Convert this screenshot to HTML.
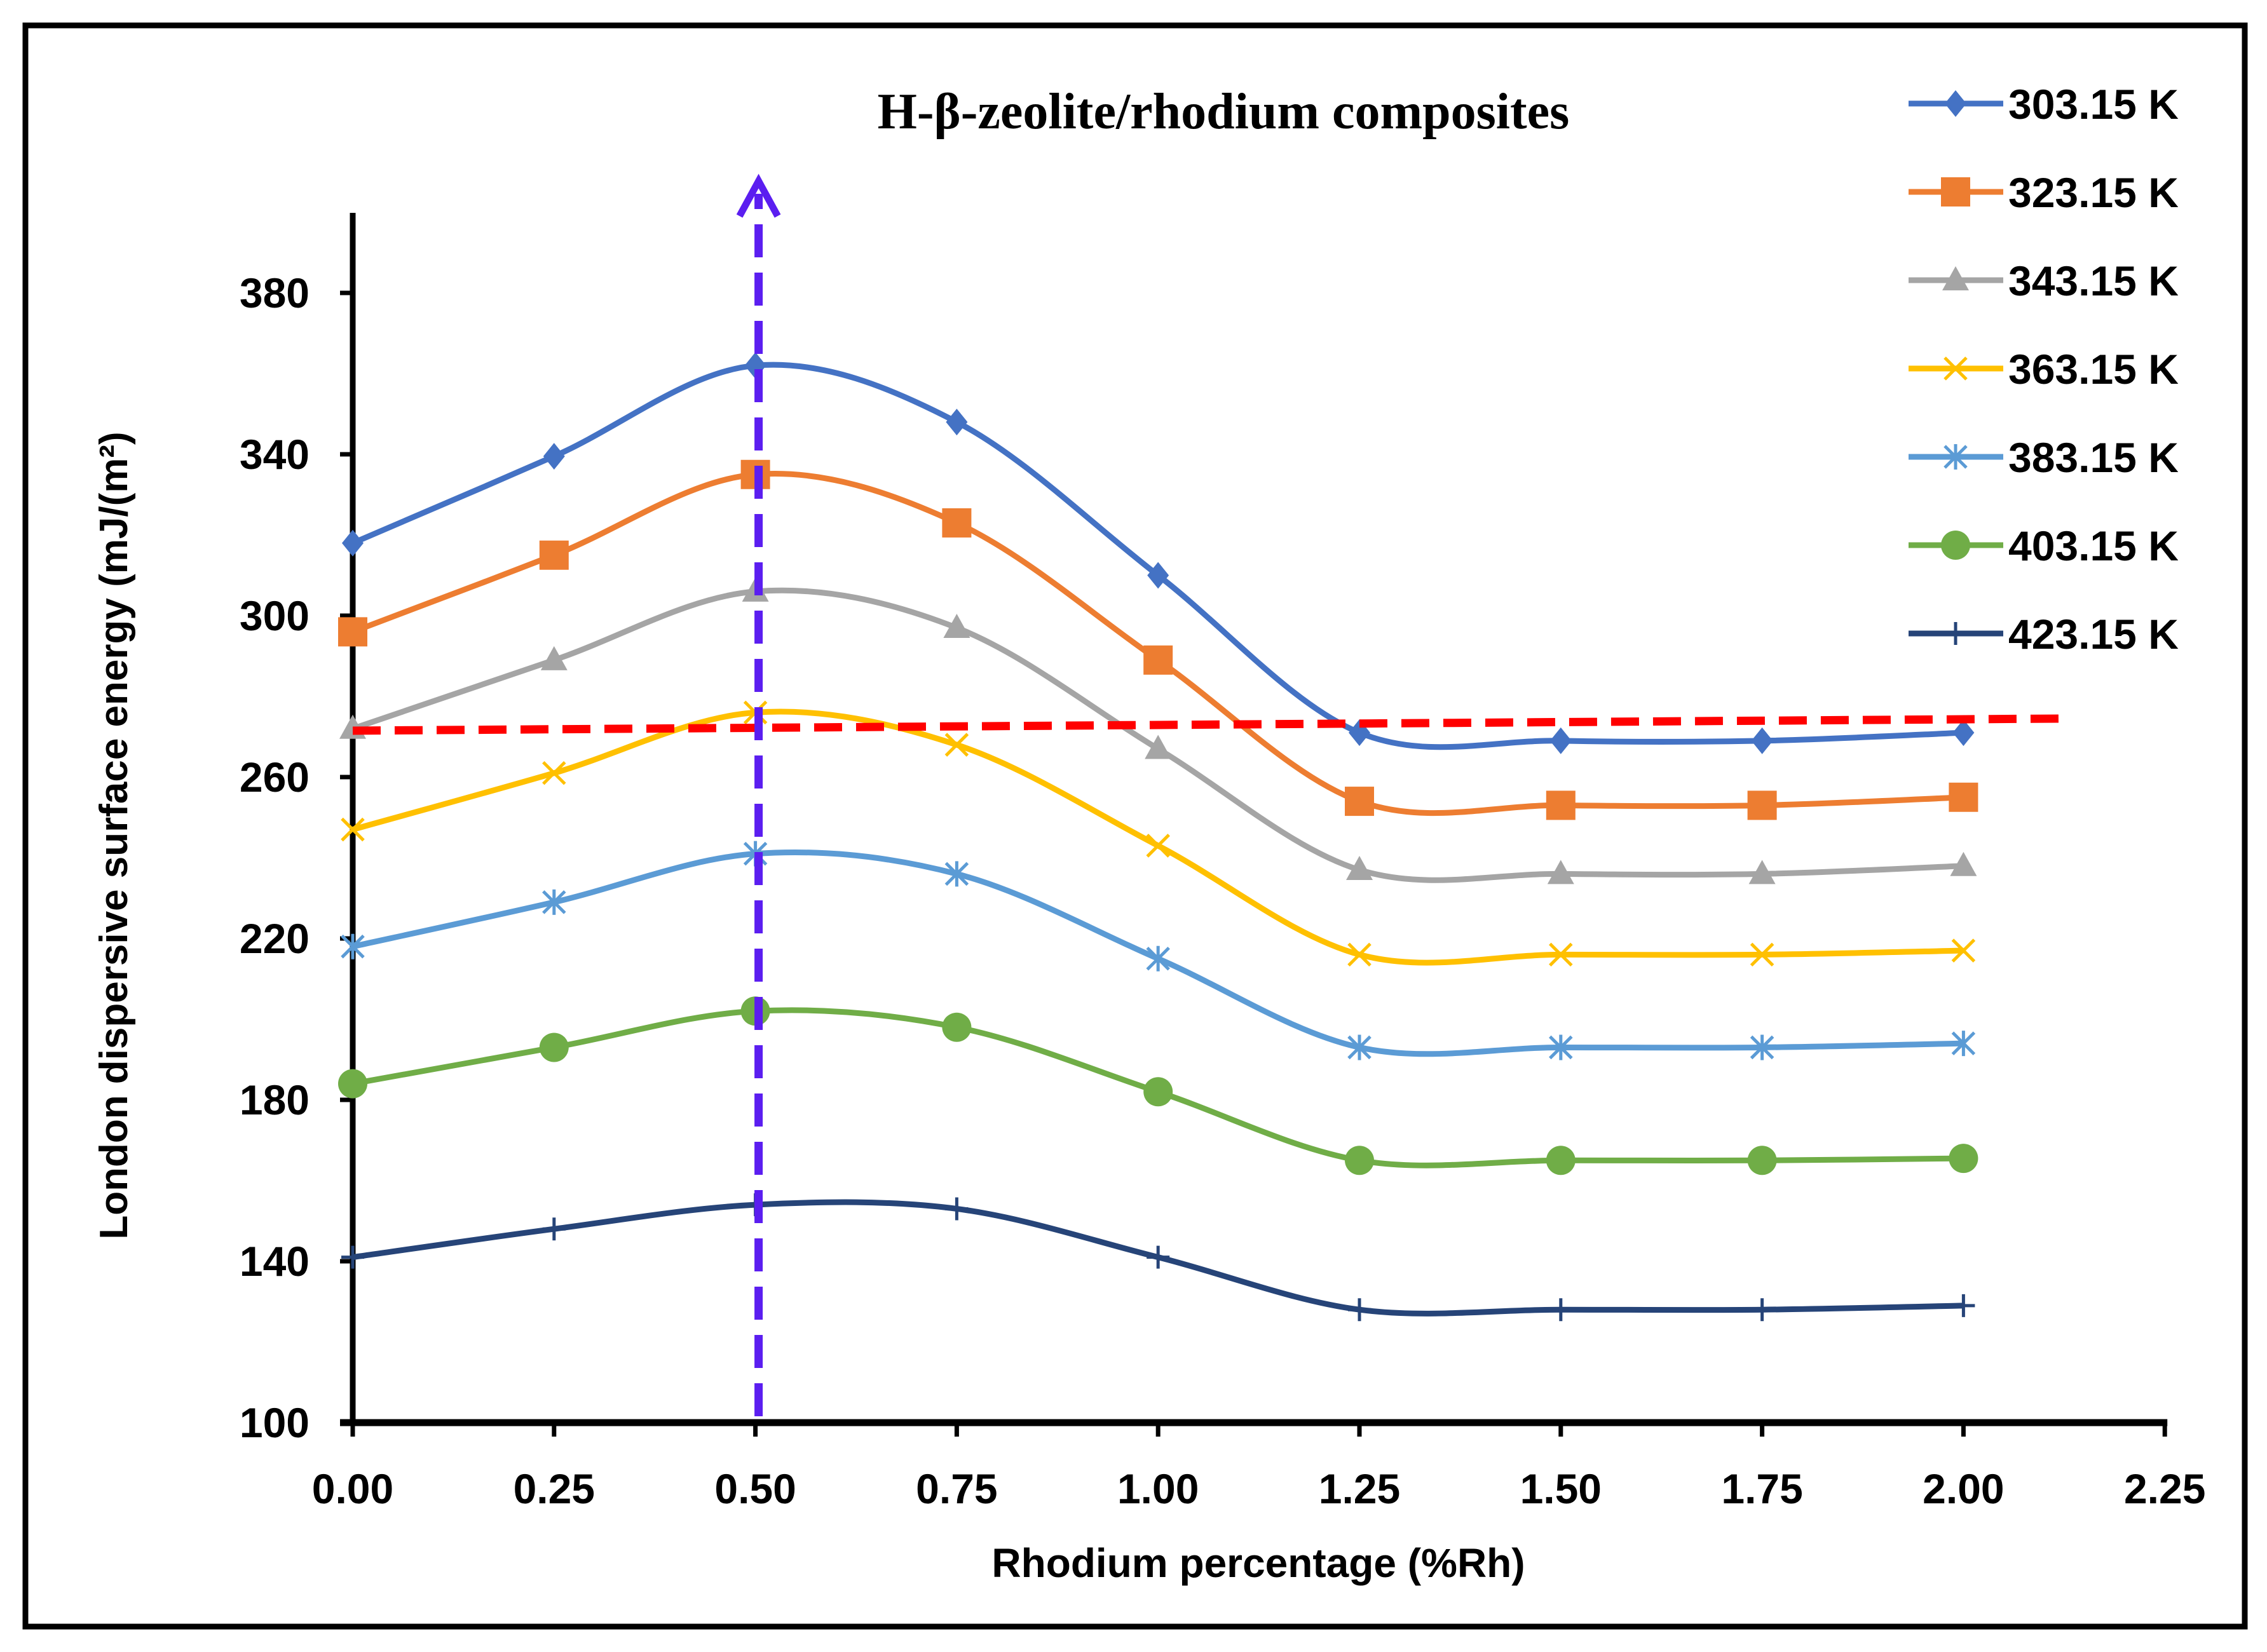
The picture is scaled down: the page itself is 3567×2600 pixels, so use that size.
<!DOCTYPE html>
<html><head><meta charset="utf-8"><style>
html,body{margin:0;padding:0;background:#fff}
svg{display:block}
text{font-family:"Liberation Sans",sans-serif;font-weight:bold;fill:#000}
</style></head><body>
<svg id="chart" width="3567" height="2600" viewBox="0 0 3567 2600" xmlns="http://www.w3.org/2000/svg">
<rect x="40" y="40" width="3492" height="2520" fill="#fff" stroke="#000" stroke-width="9"/>
<text x="1925" y="202" text-anchor="middle" style="font-family:'Liberation Serif',serif;font-size:80px">H-β-zeolite/rhodium composites</text>
<g id="axes"></g>
<g id="series"></g>
<g id="legend"></g>
<text transform="translate(200,1315) rotate(-90)" text-anchor="middle" style="font-size:62px">London dispersive surface energy (mJ/(m²)</text>
<text x="1980" y="2482" text-anchor="middle" style="font-size:64px">Rhodium percentage (%Rh)</text>
</svg>
<script>
const categories=[0,0.25,0.5,0.75,1.0,1.25,1.5,1.75,2.0];
const xTicks=["0.00","0.25","0.50","0.75","1.00","1.25","1.50","1.75","2.00","2.25"];
const yTicks=[100,140,180,220,260,300,340,380];
const seriesNames=["303.15 K","323.15 K","343.15 K","363.15 K","383.15 K","403.15 K","423.15 K"];
const s303=[318,339.5,362,348,310,271,269,269,271];
const s323=[296,315,335,323,289,254,253,253,255];
const s343=[272,289,306,297,267,237,236,236,238];
const s363=[247,261,276,268,243,216,216,216,217];
const s383=[218,229,241,236,215,193,193,193,194];
const s403=[184,193,202,198,182,165,165,165,165.5];
const s423=[141,148,154,153,141,128,128,128,129];
const refLineValues=[271.5,274.5];
const refLineX=[0,2.12];
const markerX=0.5;

const NS="http://www.w3.org/2000/svg";
const X0=555,XS=316.8/0.25,Y0=2239,YS=254/40;
const xs=v=>X0+v*XS, ys=v=>Y0-(v-100)*YS;
function el(t,a,p){const e=document.createElementNS(NS,t);for(const k in a)e.setAttribute(k,a[k]);p.appendChild(e);return e;}
const axes=document.getElementById('axes'),ser=document.getElementById('series'),leg=document.getElementById('legend');

let ya=el('line',{x1:X0,y1:335,x2:X0,y2:Y0+4,stroke:'#000','stroke-width':9},axes);


let xa=el('line',{x1:X0-20,y1:Y0,x2:xs(2.25)+4,y2:Y0,stroke:'#000','stroke-width':11},axes);


yTicks.forEach(v=>{
  el('line',{x1:X0-20,y1:ys(v),x2:X0,y2:ys(v),stroke:'#000','stroke-width':7},axes);
  const t=el('text',{x:X0-68,y:ys(v)+23,'text-anchor':'end',style:'font-size:66px'},axes);
  t.textContent=v;
  
  
});
xTicks.forEach((l,i)=>{
  const x=xs(i*0.25);
  el('line',{x1:x,y1:Y0,x2:x,y2:Y0+22,stroke:'#000','stroke-width':7},axes);
  const t=el('text',{x:x,y:Y0+127,'text-anchor':'middle',style:'font-size:66px'},axes);
  t.textContent=l;
  
  
});

const data=[s303,s323,s343,s363,s383,s403,s423];
const colors=['#4472C4','#ED7D31','#A5A5A5','#FFC000','#5B9BD5','#70AD47','#264478'];
const shapes=['diamond','square','triangle','x','star','circle','plus'];

function marker(shape,x,y,c,p){
  const g=el('g',{},p);
  if(shape==='diamond')el('path',{d:`M${x} ${y-21}L${x+17} ${y}L${x} ${y+21}L${x-17} ${y}Z`,fill:c},g);
  else if(shape==='square')el('rect',{x:x-23,y:y-23,width:46,height:46,fill:c},g);
  else if(shape==='triangle')el('path',{d:`M${x} ${y-22}L${x+21} ${y+16}L${x-21} ${y+16}Z`,fill:c},g);
  else if(shape==='circle')el('circle',{cx:x,cy:y,r:23,fill:c},g);
  else if(shape==='x')el('path',{d:`M${x-17} ${y-17}L${x+17} ${y+17}M${x+17} ${y-17}L${x-17} ${y+17}`,stroke:c,'stroke-width':5},g);
  else if(shape==='star')el('path',{d:`M${x-17} ${y-17}L${x+17} ${y+17}M${x+17} ${y-17}L${x-17} ${y+17}M${x} ${y-20}L${x} ${y+20}`,stroke:c,'stroke-width':5},g);
  else if(shape==='plus')el('path',{d:`M${x-18} ${y}L${x+18} ${y}M${x} ${y-18}L${x} ${y+18}`,stroke:c,'stroke-width':5},g);
  return g;
}
function smooth(pts){
  let d=`M${pts[0][0]} ${pts[0][1]}`;
  for(let i=0;i<pts.length-1;i++){
    const p0=pts[Math.max(0,i-1)],p1=pts[i],p2=pts[i+1],p3=pts[Math.min(pts.length-1,i+2)];
    const t=1/6;
    d+=`C${p1[0]+(p2[0]-p0[0])*t} ${p1[1]+(p2[1]-p0[1])*t} ${p2[0]-(p3[0]-p1[0])*t} ${p2[1]-(p3[1]-p1[1])*t} ${p2[0]} ${p2[1]}`;
  }
  return d;
}
data.forEach((s,k)=>{
  const g=el('g',{},ser);
  
  
  const pts=s.map((v,i)=>[xs(categories[i]),ys(v)]);
  el('path',{d:smooth(pts),fill:'none',stroke:colors[k],'stroke-width':9},g);
  pts.forEach(p=>{
    const m=marker(shapes[k],p[0],p[1],colors[k],g);
    
    
  });
  const ly=163+k*139;
  const lg=el('g',{},leg);
  
  
  el('line',{x1:3003,y1:ly,x2:3152,y2:ly,stroke:colors[k],'stroke-width':9},lg);
  marker(shapes[k],3077,ly,colors[k],lg);
  const t=el('text',{x:3160,y:ly+24,style:'font-size:66px'},lg);
  t.textContent=seriesNames[k];
});

const rl=el('line',{x1:xs(refLineX[0]),y1:ys(refLineValues[0]),x2:xs(refLineX[1]),y2:ys(refLineValues[1]),stroke:'#FF0000','stroke-width':13,'stroke-dasharray':'44 22'},ser);


const ag=el('g',{},ser);


const ax=xs(markerX)+5;
el('line',{x1:ax,y1:Y0-10,x2:ax,y2:305,stroke:'#5B1EF0','stroke-width':13,'stroke-dasharray':'52 24'},ag);
el('path',{d:`M${ax-30} 340L${ax} 285L${ax+30} 340`,fill:'none',stroke:'#5B1EF0','stroke-width':11},ag);
</script>
</body></html>
